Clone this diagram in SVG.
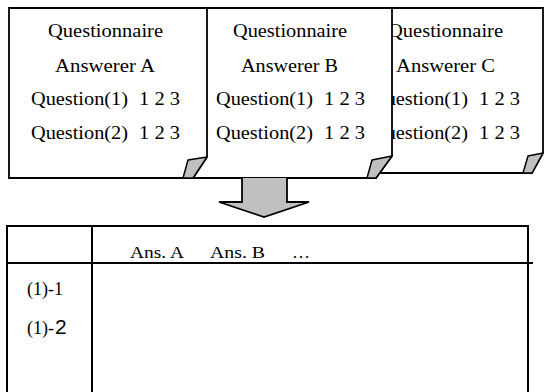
<svg xmlns="http://www.w3.org/2000/svg" width="544" height="392" viewBox="0 0 544 392">
  <style>
    .page { fill: #ffffff; stroke: #000000; stroke-width: 1.8; stroke-linejoin: miter; }
    .flap { fill: #c0c0c0; stroke: #000000; stroke-width: 1.5; stroke-linejoin: round; }
    .txt { font-size: 19px; fill: #000000; }
    .row { font-size: 18px; fill: #000000; }
    .small { font-size: 16px; fill: #000000; }
    .sans { font-size: 21px; fill: #000000; }
    .rule { stroke: #000000; stroke-width: 2; fill: none; }
  </style>

  <rect x="0" y="0" width="544" height="392" fill="#ffffff"/>

  <!-- back sheet: answerer C -->
  <g id="page-c" font-family="'Liberation Serif', 'Times New Roman', Times, serif">
    <path class="page" d="M300,8 H543 V153 L532,173 H300 Z"/>
    <path class="flap" d="M523,173 L528,156 L543,153 L532,173 Z"/>
    <text class="txt" x="388" y="37" textLength="115" lengthAdjust="spacingAndGlyphs">Questionnaire</text>
    <text class="txt" x="396" y="72" textLength="99" lengthAdjust="spacingAndGlyphs">Answerer C</text>
    <text class="txt" x="371" y="105" textLength="97" lengthAdjust="spacingAndGlyphs">Question(1)</text>
    <text class="txt" x="479" y="105" textLength="41" lengthAdjust="spacingAndGlyphs">1 2 3</text>
    <text class="txt" x="371" y="139" textLength="97" lengthAdjust="spacingAndGlyphs">Question(2)</text>
    <text class="txt" x="479" y="139" textLength="41" lengthAdjust="spacingAndGlyphs">1 2 3</text>
  </g>

  <!-- middle sheet: answerer B -->
  <g id="page-b" font-family="'Liberation Serif', 'Times New Roman', Times, serif">
    <path class="page" d="M150,8 H392 V156 L376,178 H150 Z"/>
    <path class="flap" d="M367,178 L372,160 L392,156 L376,178 Z"/>
    <text class="txt" x="233" y="37" textLength="114" lengthAdjust="spacingAndGlyphs">Questionnaire</text>
    <text class="txt" x="241" y="72" textLength="97" lengthAdjust="spacingAndGlyphs">Answerer B</text>
    <text class="txt" x="216" y="105" textLength="97" lengthAdjust="spacingAndGlyphs">Question(1)</text>
    <text class="txt" x="324" y="105" textLength="41" lengthAdjust="spacingAndGlyphs">1 2 3</text>
    <text class="txt" x="216" y="139" textLength="97" lengthAdjust="spacingAndGlyphs">Question(2)</text>
    <text class="txt" x="324" y="139" textLength="41" lengthAdjust="spacingAndGlyphs">1 2 3</text>
  </g>

  <!-- front sheet: answerer A -->
  <g id="page-a" font-family="'Liberation Serif', 'Times New Roman', Times, serif">
    <path class="page" d="M9,8 H207 V157 L193,178 H9 Z"/>
    <path class="flap" d="M183,178 L188,160 L207,157 L193,178 Z"/>
    <text class="txt" x="48" y="37" textLength="115" lengthAdjust="spacingAndGlyphs">Questionnaire</text>
    <text class="txt" x="55" y="72" textLength="100" lengthAdjust="spacingAndGlyphs">Answerer A</text>
    <text class="txt" x="31" y="105" textLength="97" lengthAdjust="spacingAndGlyphs">Question(1)</text>
    <text class="txt" x="139" y="105" textLength="41" lengthAdjust="spacingAndGlyphs">1 2 3</text>
    <text class="txt" x="31" y="139" textLength="97" lengthAdjust="spacingAndGlyphs">Question(2)</text>
    <text class="txt" x="139" y="139" textLength="41" lengthAdjust="spacingAndGlyphs">1 2 3</text>
  </g>

  <!-- block arrow from the sheets down to the table -->
  <g id="connectors">
    <path d="M242,178 V202 H219 L264,217 L309,202 H287 V178" fill="#c0c0c0" stroke="#000000" stroke-width="1.8" stroke-linejoin="miter"/>
  </g>

  <!-- summary table -->
  <g id="table" font-family="'Liberation Serif', 'Times New Roman', Times, serif">
    <path class="rule" d="M7,394 V226 H528 V394"/>
    <line class="rule" x1="7" y1="263" x2="533" y2="263"/>
    <line class="rule" x1="92" y1="226" x2="92" y2="394"/>
    <text class="small" x="130" y="258" textLength="54" lengthAdjust="spacingAndGlyphs">Ans. A</text>
    <text class="small" x="210" y="258" textLength="55" lengthAdjust="spacingAndGlyphs">Ans. B</text>
    <text class="small" x="292" y="258" textLength="18" lengthAdjust="spacingAndGlyphs">…</text>
    <text class="row" x="27" y="295">(1)-1</text>
    <text class="row" x="27" y="334">(1)-</text>
    <text class="sans" x="55" y="334" font-family="'Liberation Sans', Arial, sans-serif">2</text>
  </g>
</svg>
